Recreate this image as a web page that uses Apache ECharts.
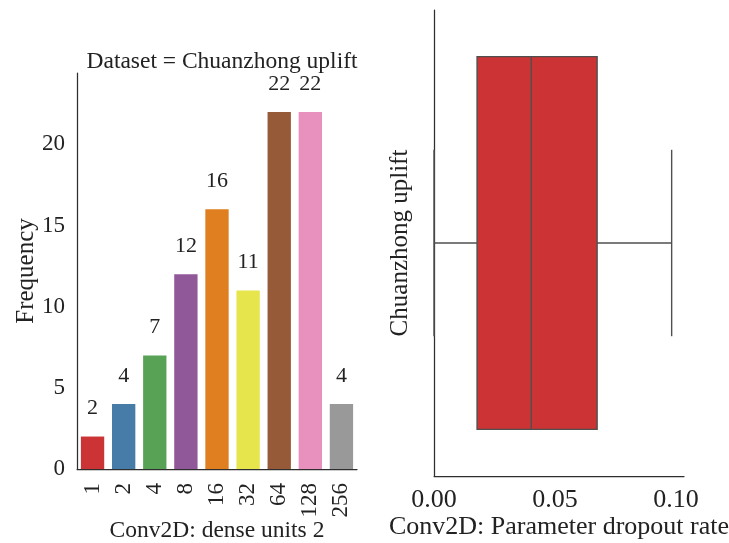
<!DOCTYPE html>
<html>
<head>
<meta charset="utf-8">
<script src="https://cdn.jsdelivr.net/npm/echarts@6/dist/echarts.min.js"></script>
<style>
  html, body { margin: 0; padding: 0; background: #ffffff; }
  #chart { width: 729px; height: 543px; }
</style>
</head>
<body>
<div id="chart"></div>
<script>
// Histogram of "dense units 2" choices
const unitCategories = ['1', '2', '4', '8', '16', '32', '64', '128', '256'];
const unitCounts = [2, 4, 7, 12, 16, 11, 22, 22, 4];
const unitColors = ['#cb3334', '#477ca8', '#58a256', '#905899', '#df7f20',
                    '#e6e64c', '#965a38', '#e890be', '#999999'];
const frequencyTicks = [0, 5, 10, 15, 20];

// Box plot of dropout rate: [whisker low, Q1, median, Q3, whisker high]
const dropoutStats = [0.0, 0.0178, 0.0402, 0.0674, 0.0982];
const dropoutTicks = [0.00, 0.05, 0.10];

const datasetName = 'Chuanzhong uplift';
const FONT = '"Liberation Serif", "Times New Roman", serif';
const TEXT = '#222222';
const AXIS = '#2e2e2e';
const BOX_LINE = '#4f4f4f';

const chart = echarts.init(document.getElementById('chart'), null, { renderer: 'canvas' });

const option = {
  backgroundColor: '#ffffff',
  animation: false,
  textStyle: { fontFamily: FONT, color: TEXT },
  title: {
    text: 'Dataset = ' + datasetName,
    left: 217,
    top: 45,
    textAlign: 'center',
    textStyle: { fontFamily: FONT, fontSize: 23.5, fontWeight: 'normal', color: TEXT }
  },
  grid: [
    { left: 77, top: 73, width: 280, height: 396, containLabel: false, outerBoundsMode: 'none' },
    { left: 434, top: 10, width: 250, height: 466, containLabel: false, outerBoundsMode: 'none' }
  ],
  xAxis: [
    {
      gridIndex: 0,
      type: 'category',
      data: unitCategories,
      boundaryGap: true,
      name: 'Conv2D: dense units 2',
      nameLocation: 'middle',
      nameGap: 50,
      nameMoveOverlap: false,
      nameTextStyle: { fontFamily: FONT, fontSize: 23.5, color: TEXT },
      axisLine: { show: true, onZero: false, lineStyle: { color: AXIS, width: 1.25 } },
      axisTick: { show: false },
      axisLabel: { rotate: 90, margin: 14, fontFamily: FONT, fontSize: 23, color: TEXT },
      splitLine: { show: false }
    },
    {
      gridIndex: 1,
      type: 'value',
      min: 0,
      max: 0.1033,
      interval: 0.05,
      name: 'Conv2D: Parameter dropout rate',
      nameLocation: 'middle',
      nameGap: 38,
      nameMoveOverlap: false,
      nameTextStyle: { fontFamily: FONT, fontSize: 26, color: TEXT },
      axisLine: { show: true, onZero: false, lineStyle: { color: AXIS, width: 1.25 } },
      axisTick: { show: false },
      axisLabel: {
        margin: 11, fontFamily: FONT, fontSize: 26, color: TEXT,
        showMaxLabel: false,
        formatter: function (v) {
          const hit = dropoutTicks.find(function (t) { return Math.abs(t - v) < 1e-9; });
          return hit === undefined ? '' : hit.toFixed(2);
        }
      },
      splitLine: { show: false }
    }
  ],
  yAxis: [
    {
      gridIndex: 0,
      type: 'value',
      min: 0,
      max: 24.4,
      interval: 5,
      name: 'Frequency',
      nameLocation: 'middle',
      nameGap: 38,
      nameMoveOverlap: false,
      nameTextStyle: { fontFamily: FONT, fontSize: 25, color: TEXT },
      axisLine: { show: true, onZero: false, lineStyle: { color: AXIS, width: 1.25 } },
      axisTick: { show: false },
      axisLabel: {
        margin: 12, fontFamily: FONT, fontSize: 23, color: TEXT,
        showMaxLabel: false,
        formatter: function (v) { return frequencyTicks.indexOf(v) >= 0 ? String(v) : ''; }
      },
      splitLine: { show: false }
    },
    {
      gridIndex: 1,
      type: 'value',
      min: -0.5,
      max: 0.5,
      name: datasetName,
      nameLocation: 'middle',
      nameGap: 21,
      nameMoveOverlap: false,
      nameTextStyle: { fontFamily: FONT, fontSize: 25, color: TEXT },
      axisLine: { show: true, onZero: false, lineStyle: { color: AXIS, width: 1.25 } },
      axisTick: { show: false },
      axisLabel: { show: false },
      splitLine: { show: false }
    }
  ],
  series: [
    {
      type: 'bar',
      xAxisIndex: 0,
      yAxisIndex: 0,
      barCategoryGap: '25%',
      data: unitCounts.map(function (v, i) {
        return { value: v, itemStyle: { color: unitColors[i] } };
      }),
      label: {
        show: true,
        position: 'top',
        distance: 17,
        fontFamily: FONT,
        fontSize: 22,
        color: TEXT
      }
    },
    {
      type: 'custom',
      xAxisIndex: 1,
      yAxisIndex: 1,
      data: [dropoutStats.concat([0])],
      encode: { x: [0, 1, 2, 3, 4], y: 5 },
      renderItem: function (params, api) {
        const lo = api.value(0), q1 = api.value(1), med = api.value(2),
              q3 = api.value(3), hi = api.value(4), c = api.value(5);
        const half = 0.4, cap = 0.2;
        const a = api.coord([q1, c + half]);
        const b = api.coord([q3, c - half]);
        const lineStyle = { stroke: BOX_LINE, lineWidth: 1.4 };
        function seg(x1, y1, x2, y2) {
          const p = api.coord([x1, y1]), q = api.coord([x2, y2]);
          return { type: 'line', shape: { x1: p[0], y1: p[1], x2: q[0], y2: q[1] }, style: lineStyle };
        }
        return {
          type: 'group',
          children: [
            seg(lo, c, q1, c),
            seg(q3, c, hi, c),
            seg(lo, c - cap, lo, c + cap),
            seg(hi, c - cap, hi, c + cap),
            {
              type: 'rect',
              shape: { x: a[0], y: a[1], width: b[0] - a[0], height: b[1] - a[1] },
              style: { fill: unitColors[0], stroke: BOX_LINE, lineWidth: 1.4 }
            },
            seg(med, c - half, med, c + half)
          ]
        };
      }
    }
  ]
};

chart.setOption(option);
</script>
</body>
</html>
